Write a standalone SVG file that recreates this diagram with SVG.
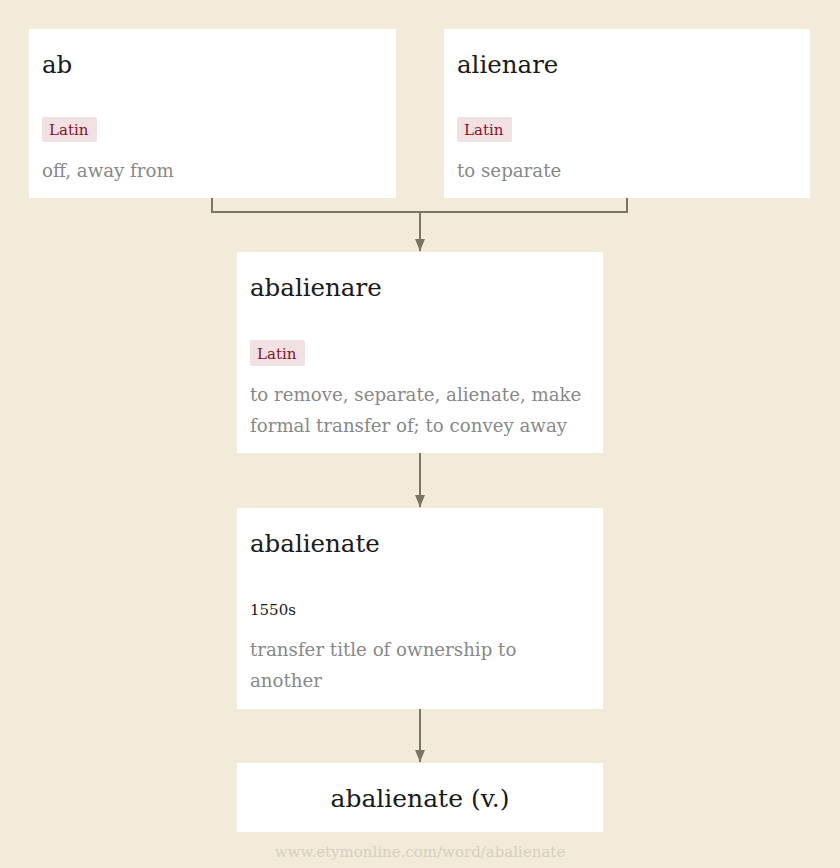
<svg xmlns="http://www.w3.org/2000/svg" width="840" height="868" viewBox="0 0 840 868">
<style>
.bg{fill:#f2ebda}
.box{fill:#ffffff}
.title{font-family:"DejaVu Serif","Liberation Serif",serif;font-size:24.5px;fill:#1a1a1a}
.tag{fill:#f1e1e3}
.tagt{font-family:"DejaVu Serif","Liberation Serif",serif;font-size:15px;fill:#8a1028}
.desc{font-family:"DejaVu Serif","Liberation Serif",serif;font-size:18.2px;fill:#888888}
.date{font-family:"DejaVu Serif","Liberation Serif",serif;font-size:15px;fill:#1a1a1a}
.con{fill:none;stroke:#7a7465;stroke-width:2}
.foot{font-family:"DejaVu Serif","Liberation Serif",serif;font-size:15px;fill:#d6cfbf}
</style>
<defs>
<marker id="arr" markerWidth="12" markerHeight="10" refX="12" refY="5" orient="auto" markerUnits="userSpaceOnUse" viewBox="0 0 12 10">
<path d="M0,0 L12,5 L0,10 Z" fill="#7a7465"/>
</marker>
</defs>
<rect class="bg" x="0" y="0" width="840" height="868"/>
<g id="connectors">
<path class="con" d="M212,198 V212 H627 V198"/>
<path class="con" d="M420,212 V251" marker-end="url(#arr)"/>
<path class="con" d="M420,453 V507" marker-end="url(#arr)"/>
<path class="con" d="M420,709 V762" marker-end="url(#arr)"/>
</g>
<g id="node-ab">
<rect class="box" x="29" y="29" width="367" height="169"/>
<text class="title" x="42" y="73">ab</text>
<rect class="tag" x="42" y="117" width="55" height="25" rx="2"/>
<text class="tagt" x="49" y="135">Latin</text>
<text class="desc" x="42" y="177">off, away from</text>
</g>
<g id="node-alienare">
<rect class="box" x="444" y="29" width="366" height="169"/>
<text class="title" x="457" y="73">alienare</text>
<rect class="tag" x="457" y="117" width="55" height="25" rx="2"/>
<text class="tagt" x="464" y="135">Latin</text>
<text class="desc" x="457" y="177">to separate</text>
</g>
<g id="node-abalienare">
<rect class="box" x="237" y="252" width="366" height="201"/>
<text class="title" x="250" y="296">abalienare</text>
<rect class="tag" x="250" y="340" width="55" height="26" rx="2"/>
<text class="tagt" x="257" y="359">Latin</text>
<text class="desc" x="250" y="401">to remove, separate, alienate, make</text>
<text class="desc" x="250" y="432">formal transfer of; to convey away</text>
</g>
<g id="node-abalienate">
<rect class="box" x="237" y="508" width="366" height="201"/>
<text class="title" x="250" y="552">abalienate</text>
<text class="date" x="250" y="615">1550s</text>
<text class="desc" x="250" y="656">transfer title of ownership to</text>
<text class="desc" x="250" y="687">another</text>
</g>
<g id="node-abalienate-v">
<rect class="box" x="237" y="763" width="366" height="69"/>
<text class="title" x="420" y="807" text-anchor="middle" style="font-size:25px">abalienate (v.)</text>
</g>
<text class="foot" x="420" y="857" text-anchor="middle">www.etymonline.com/word/abalienate</text>
</svg>
